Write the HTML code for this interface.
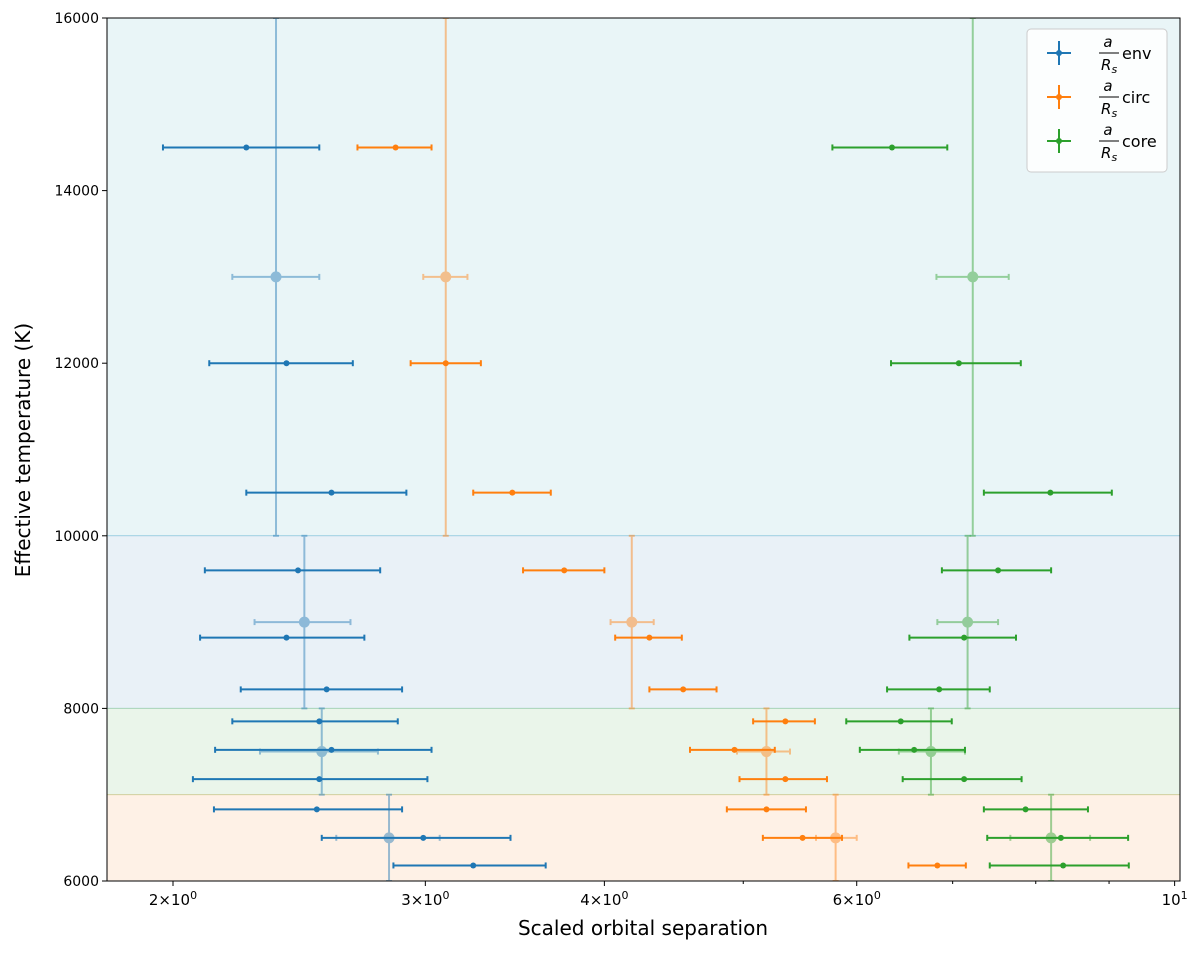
<!DOCTYPE html>
<html><head><meta charset="utf-8"><style>
body{margin:0;background:#fff;}
svg{font-family:"DejaVu Sans","Liberation Sans",sans-serif;}
</style></head><body>
<svg id="chart" width="1200" height="953" xmlns="http://www.w3.org/2000/svg"></svg>
<script>
// Data (x values in scaled orbital separation, y in K)
const temps = [14500,12000,10500,9600,8820,8220,7850,7520,7180,6830,6500,6180];
const envX  = [2.25,2.40,2.58,2.445,2.40,2.56,2.53,2.58,2.53,2.52,2.99,3.24];
const envLo = [1.968,2.12,2.25,2.105,2.089,2.23,2.20,2.14,2.065,2.136,2.54,2.85];
const envHi = [2.53,2.67,2.91,2.79,2.72,2.89,2.87,3.03,3.01,2.89,3.44,3.64];
const circX  = [2.86,3.10,3.45,3.75,4.30,4.54,5.35,4.93,5.35,5.19,5.50,6.83];
const circLo = [2.69,2.93,3.24,3.51,4.07,4.30,5.08,4.59,4.97,4.87,5.16,6.52];
const circHi = [3.03,3.28,3.67,4.00,4.53,4.79,5.61,5.26,5.72,5.53,5.86,7.15];
const coreX  = [6.35,7.07,8.19,7.53,7.13,6.85,6.44,6.58,7.13,7.87,8.33,8.36];
const coreLo = [5.77,6.34,7.36,6.88,6.53,6.30,5.90,6.03,6.46,7.36,7.40,7.43];
const coreHi = [6.94,7.81,9.04,8.20,7.75,7.43,6.99,7.14,7.82,8.70,9.28,9.29];
// band summaries
const bandT   = [13000,9000,7500,6500];
const bandTLo = [10000,8000,7000,6000];
const bandTHi = [16000,10000,8000,7000];
const envBX  = [2.36,2.47,2.54,2.83];
const envBLo = [2.20,2.28,2.30,2.60];
const envBHi = [2.53,2.66,2.78,3.07];
const circBX  = [3.10,4.18,5.19,5.80];
const circBLo = [2.99,4.04,4.95,5.62];
const circBHi = [3.21,4.33,5.39,6.00];
const coreBX  = [7.23,7.17,6.76,8.20];
const coreBLo = [6.82,6.83,6.42,7.68];
const coreBHi = [7.66,7.53,7.14,8.73];
const yTicks = [6000,8000,10000,12000,14000,16000];
const xTicks = [2,3,4,6,10];
const xTickLabels = ['2','3','4','6',''];
const xMinor = [5,7,8,9];
const bands = [[10000,16000,'rgb(233,245,247)','rgba(23,190,207,0.3)'],[8000,10000,'rgb(233,241,247)','rgba(31,119,180,0.25)'],[7000,8000,'rgb(234,245,234)','rgba(44,160,44,0.25)'],[6000,7000,'rgb(254,241,230)','rgba(200,160,60,0.35)']];

const L=107,R=1180,T=18,B=881;
const X=v=>173+1433*Math.log10(v/2);
const Y=t=>B-(t-6000)*(B-T)/10000;
const svg=document.getElementById('chart');
const NS='http://www.w3.org/2000/svg';
function mk(tag,attrs,parent){const e=document.createElementNS(NS,tag);for(const k in attrs)e.setAttribute(k,attrs[k]);(parent||svg).appendChild(e);return e;}

const defs=mk('defs',{});
const cp=mk('clipPath',{id:'clip'},defs);mk('rect',{x:L,y:T,width:R-L,height:B-T},cp);

bands.forEach(b=>{
  const r=mk('rect',{x:L,y:Y(b[1]),width:R-L,height:Y(b[0])-Y(b[1]),fill:b[2],stroke:b[3],'stroke-width':1});
  
  
});

const plot=mk('g',{'clip-path':'url(#clip)'});



function errbar(cx,cy,xl,xh,yl,yh,color,op,lw,r,name){
  const g=mk('g',{opacity:op},plot);
  
  
  const c=3;
  mk('line',{x1:xl,y1:cy,x2:xh,y2:cy,stroke:color,'stroke-width':lw},g);
  mk('line',{x1:xl,y1:cy-c,x2:xl,y2:cy+c,stroke:color,'stroke-width':lw},g);
  mk('line',{x1:xh,y1:cy-c,x2:xh,y2:cy+c,stroke:color,'stroke-width':lw},g);
  if(yl!==null){
    mk('line',{x1:cx,y1:yl,x2:cx,y2:yh,stroke:color,'stroke-width':lw},g);
    mk('line',{x1:cx-c,y1:yl,x2:cx+c,y2:yl,stroke:color,'stroke-width':lw},g);
    mk('line',{x1:cx-c,y1:yh,x2:cx+c,y2:yh,stroke:color,'stroke-width':lw},g);
  }
  mk('circle',{cx:cx,cy:cy,r:r,fill:color},g);
}
const series=[
 ['env','#1f77b4',envX,envLo,envHi,envBX,envBLo,envBHi],
 ['circ','#ff7f0e',circX,circLo,circHi,circBX,circBLo,circBHi],
 ['core','#2ca02c',coreX,coreLo,coreHi,coreBX,coreBLo,coreBHi]];
series.forEach(s=>{
  for(let i=0;i<bandT.length;i++){
    errbar(X(s[5][i]),Y(bandT[i]),X(s[6][i]),X(s[7][i]),Y(bandTLo[i]),Y(bandTHi[i]),s[1],0.45,2,5.5,s[0]+'-band-summary');
  }
});
series.forEach(s=>{
  for(let i=0;i<temps.length;i++){
    errbar(X(s[2][i]),Y(temps[i]),X(s[3][i]),X(s[4][i]),null,null,s[1],1,2,3,s[0]+'-point');
  }
});

// axes
const ax=mk('rect',{x:L,y:T,width:R-L,height:B-T,fill:'none',stroke:'#000','stroke-width':1});


yTicks.forEach(t=>{
  mk('line',{x1:L-5,y1:Y(t),x2:L,y2:Y(t),stroke:'#000'});
  const tx=mk('text',{x:L-8,y:Y(t)+5,'text-anchor':'end','font-size':14});
  tx.textContent=t;
  
  
});
xTicks.forEach((v,i)=>{
  mk('line',{x1:X(v),y1:B,x2:X(v),y2:B+5,stroke:'#000'});
  const tx=mk('text',{x:X(v),y:B+24,'text-anchor':'middle','font-size':15});
  
  
  if(v===10){tx.innerHTML='10<tspan dy="-6" font-size="11">1</tspan>';}
  else{tx.innerHTML=xTickLabels[i]+'\u00d710<tspan dy="-6" font-size="11">0</tspan>';}
});
xMinor.forEach(v=>mk('line',{x1:X(v),y1:B,x2:X(v),y2:B+3,stroke:'#000'}));

const xl=mk('text',{x:643,y:935,'text-anchor':'middle','font-size':20});
xl.textContent='Scaled orbital separation';


const yl=mk('text',{x:30,y:450,'text-anchor':'middle','font-size':20,transform:'rotate(-90 30 450)'});
yl.textContent='Effective temperature (K)';



// legend
const lg=mk('g',{});


mk('rect',{x:1027,y:29,width:140,height:143,rx:4,fill:'rgba(255,255,255,0.85)',stroke:'#ccc'},lg);
series.forEach((s,i)=>{
  const cy=53+i*44;
  const e=mk('g',{},lg);
  
  
  mk('line',{x1:1047,y1:cy,x2:1071,y2:cy,stroke:s[1],'stroke-width':2},e);
  mk('line',{x1:1059,y1:cy-12,x2:1059,y2:cy+12,stroke:s[1],'stroke-width':2},e);
  mk('circle',{cx:1059,cy:cy,r:3,fill:s[1]},e);
  const a=mk('text',{x:1108,y:cy-6,'text-anchor':'middle','font-size':15,'font-style':'italic'},e);a.textContent='a';
  mk('line',{x1:1099,y1:cy,x2:1119,y2:cy,stroke:'#000','stroke-width':1},e);
  const rs=mk('text',{x:1101,y:cy+17,'font-size':15,'font-style':'italic'},e);rs.innerHTML='R<tspan dy="3" font-size="11">s</tspan>';
  const lab=mk('text',{x:1122,y:cy+6,'font-size':16},e);lab.textContent=s[0];
});
</script>
</body></html>
